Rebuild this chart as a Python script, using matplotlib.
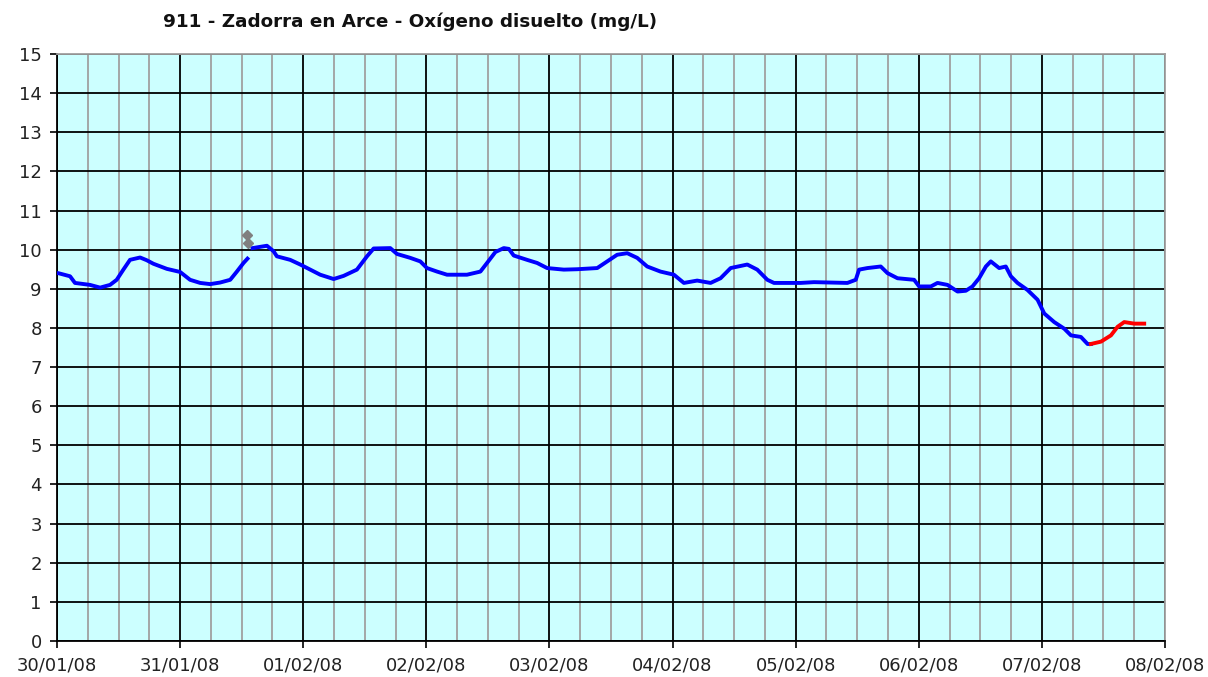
import matplotlib
matplotlib.use("Agg")
import matplotlib.pyplot as plt
from matplotlib.ticker import MultipleLocator, FixedLocator

# Days since 30/01/08 00:00
blue1_x = [0.0, 0.01, 0.106, 0.146, 0.268, 0.35, 0.431, 0.485, 0.539, 0.593, 0.675, 0.729, 0.783,
           0.892, 1.0, 1.081, 1.163, 1.244, 1.325, 1.407, 1.461, 1.515, 1.547]
blue1_y = [9.40, 9.40, 9.32, 9.15, 9.10, 9.03, 9.10, 9.23, 9.49, 9.74, 9.80, 9.73, 9.64,
           9.51, 9.43, 9.23, 9.15, 9.12, 9.16, 9.23, 9.44, 9.66, 9.77]

blue2_x = [1.588, 1.705, 1.759, 1.786, 1.894, 1.976, 2.057, 2.138, 2.247, 2.328, 2.436, 2.518,
           2.572, 2.707, 2.762, 2.870, 2.951, 3.005, 3.087, 3.168, 3.33, 3.439, 3.493, 3.561,
           3.629, 3.67, 3.71, 3.818, 3.9, 3.981, 4.117, 4.225, 4.388, 4.469, 4.55, 4.632,
           4.713, 4.794, 4.902, 5.011, 5.092, 5.2, 5.309, 5.39, 5.472, 5.607, 5.688, 5.77,
           5.824, 5.959, 6.04, 6.149, 6.42, 6.488, 6.515, 6.583, 6.691, 6.746, 6.827, 6.962,
           7.003, 7.098, 7.152, 7.233, 7.315, 7.382, 7.436, 7.49, 7.545, 7.585, 7.653, 7.707,
           7.748, 7.802, 7.883, 7.965, 8.019, 8.1, 8.182, 8.236, 8.317, 8.371, 8.398]
blue2_y = [10.04, 10.10, 9.96, 9.83, 9.74, 9.62, 9.49, 9.36, 9.25, 9.33, 9.49, 9.83,
           10.03, 10.04, 9.89, 9.79, 9.70, 9.53, 9.44, 9.36, 9.36, 9.44, 9.66, 9.94,
           10.04, 10.02, 9.85, 9.74, 9.66, 9.53, 9.49, 9.50, 9.53, 9.70, 9.87, 9.91,
           9.79, 9.57, 9.44, 9.36, 9.15, 9.21, 9.15, 9.27, 9.53, 9.62, 9.49, 9.23,
           9.15, 9.15, 9.15, 9.17, 9.15, 9.23, 9.49, 9.53, 9.57, 9.40, 9.27, 9.23,
           9.06, 9.06, 9.15, 9.10, 8.93, 8.95, 9.06, 9.27, 9.57, 9.70, 9.53, 9.57,
           9.32, 9.15, 8.97, 8.72, 8.37, 8.15, 7.98, 7.81, 7.77, 7.59, 7.59]

red_x = [8.398, 8.48, 8.561, 8.615, 8.669, 8.75, 8.831]
red_y = [7.59, 7.65, 7.81, 8.03, 8.15, 8.11, 8.11]

gray_x = [1.542, 1.550]
gray_y = [10.38, 10.17]

day_labels = ["30/01/08", "31/01/08", "01/02/08", "02/02/08", "03/02/08",
              "04/02/08", "05/02/08", "06/02/08", "07/02/08", "08/02/08"]
title = "911 - Zadorra en Arce - Oxígeno disuelto (mg/L)"

fig = plt.figure(figsize=(12.08, 6.77), dpi=100)
ax = fig.add_axes([57/1208, 36/677, (1165-57)/1208, (641-54)/677])
ax.set_facecolor("#CCFFFF")

ax.set_xlim(0, 9)
ax.set_ylim(0, 15)
ax.xaxis.set_major_locator(FixedLocator(range(len(day_labels))))
ax.set_xticklabels(day_labels)
ax.xaxis.set_minor_locator(MultipleLocator(0.25))
ax.yaxis.set_major_locator(MultipleLocator(1))

ax.grid(which="minor", axis="x", color="#A0A0A0", linewidth=1.3, zorder=0)
ax.grid(which="major", axis="both", color="black", linewidth=1.3, zorder=1)
ax.set_axisbelow(True)

ax.tick_params(which="major", direction="out", length=5, width=1.2, color="black",
               labelsize=13, labelcolor="#222222")
ax.tick_params(axis="x", which="major", pad=6)
ax.tick_params(axis="y", which="major", pad=6)
ax.tick_params(which="minor", length=0)

for s in ["left", "bottom"]:
    ax.spines[s].set_color("black")
    ax.spines[s].set_linewidth(1.3)
for s in ["top", "right"]:
    ax.spines[s].set_color("#A0A0A0")
    ax.spines[s].set_linewidth(1.3)

ax.plot(blue1_x, blue1_y, color="#0000FF", linewidth=2.8, zorder=3)
ax.plot(blue2_x, blue2_y, color="#0000FF", linewidth=2.8, zorder=3)
ax.plot(red_x, red_y, color="#FF0000", linewidth=2.8, zorder=3)
ax.plot(gray_x, gray_y, linestyle="none", marker="D", markersize=5,
        color="#808080", zorder=4)

fig.text(163/1208, 1 - 22/677, title, fontsize=13.2, fontweight="bold",
         ha="left", va="center", color="#111111")

fig.savefig("out.png", dpi=100)
